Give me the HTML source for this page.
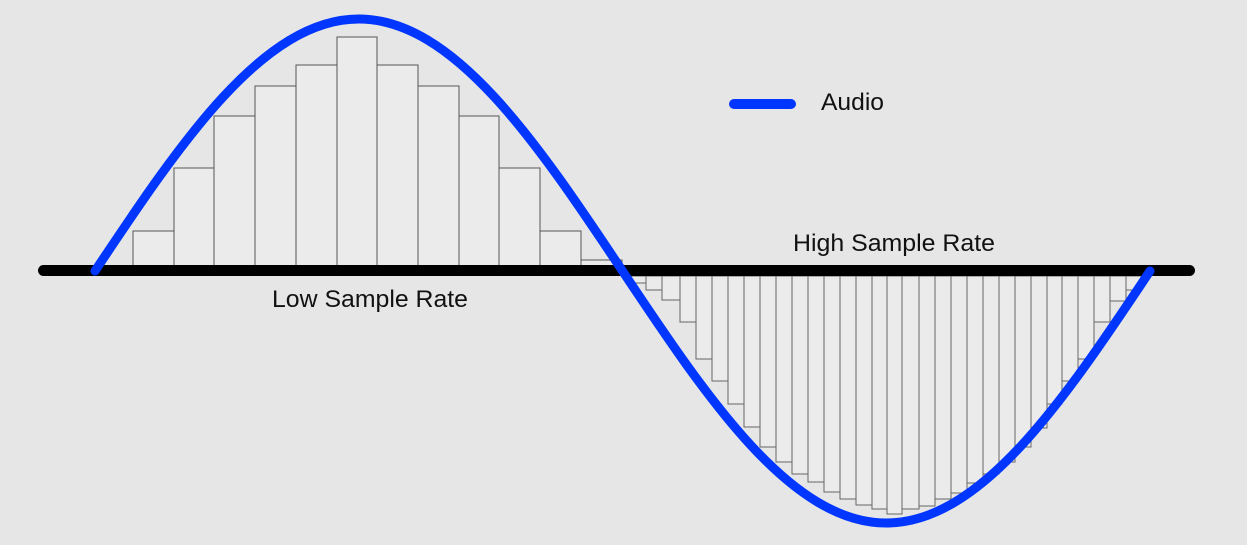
<!DOCTYPE html>
<html><head><meta charset="utf-8"><style>html,body{margin:0;padding:0;background:#e6e6e6}svg{display:block}</style></head>
<body>
<svg width="1247" height="545" viewBox="0 0 1247 545" xmlns="http://www.w3.org/2000/svg" font-family="Liberation Sans, sans-serif">
<rect width="1247" height="545" fill="#e6e6e6"/>
<g fill="#ebebeb" stroke="#555" stroke-width="1">
<rect x="133" y="231" width="41" height="36"/>
<rect x="174" y="168" width="40" height="99"/>
<rect x="214" y="116" width="41" height="151"/>
<rect x="255" y="86" width="41" height="181"/>
<rect x="296" y="65" width="41" height="202"/>
<rect x="337" y="37" width="40" height="230"/>
<rect x="377" y="65" width="41" height="202"/>
<rect x="418" y="86" width="41" height="181"/>
<rect x="459" y="116" width="40" height="151"/>
<rect x="499" y="168" width="41" height="99"/>
<rect x="540" y="231" width="41" height="36"/>
<rect x="581" y="260" width="41" height="7"/>
</g>
<g fill="#ebebeb" stroke="#666" stroke-width="1">
<rect x="630" y="276" width="16" height="7"/>
<rect x="646" y="276" width="16" height="14"/>
<rect x="662" y="276" width="18" height="24"/>
<rect x="680" y="276" width="16" height="46"/>
<rect x="696" y="276" width="16" height="83"/>
<rect x="712" y="276" width="16" height="105"/>
<rect x="728" y="276" width="16" height="128"/>
<rect x="744" y="276" width="16" height="151"/>
<rect x="760" y="276" width="16" height="171"/>
<rect x="776" y="276" width="16" height="186"/>
<rect x="792" y="276" width="16" height="198"/>
<rect x="808" y="276" width="16" height="206"/>
<rect x="824" y="276" width="16" height="216"/>
<rect x="840" y="276" width="16" height="223"/>
<rect x="856" y="276" width="16" height="229"/>
<rect x="872" y="276" width="15" height="233"/>
<rect x="887" y="276" width="15" height="238"/>
<rect x="902" y="276" width="17" height="233"/>
<rect x="919" y="276" width="16" height="230"/>
<rect x="935" y="276" width="16" height="223"/>
<rect x="951" y="276" width="16" height="217"/>
<rect x="967" y="276" width="16" height="207"/>
<rect x="983" y="276" width="16" height="198"/>
<rect x="999" y="276" width="16" height="186"/>
<rect x="1015" y="276" width="16" height="171"/>
<rect x="1031" y="276" width="16" height="152"/>
<rect x="1047" y="276" width="15" height="128"/>
<rect x="1062" y="276" width="16" height="105"/>
<rect x="1078" y="276" width="16" height="83"/>
<rect x="1094" y="276" width="16" height="46"/>
<rect x="1110" y="276" width="16" height="25"/>
<rect x="1126" y="276" width="16" height="14"/>
</g>
<rect x="38" y="265" width="1157" height="11" rx="5.5" fill="#000"/>
<path d="M95 271 C181 141.9 263.7 19 358.75 19 C453.8 19 536.5 141.9 622.5 271 C708.5 400.1 791.2 523 886.25 523 C981.3 523 1064 400.1 1150 271" fill="none" stroke="#0036ff" stroke-width="9" stroke-linecap="round"/>
<line x1="734" y1="104" x2="791" y2="104" stroke="#0036ff" stroke-width="10" stroke-linecap="round"/>
<text x="821" y="110" font-size="24" textLength="63" lengthAdjust="spacingAndGlyphs" fill="#111">Audio</text>
<text x="793" y="251" font-size="24" textLength="202" lengthAdjust="spacingAndGlyphs" fill="#111">High Sample Rate</text>
<text x="272" y="307" font-size="24" textLength="196" lengthAdjust="spacingAndGlyphs" fill="#111">Low Sample Rate</text>
</svg>
</body></html>
